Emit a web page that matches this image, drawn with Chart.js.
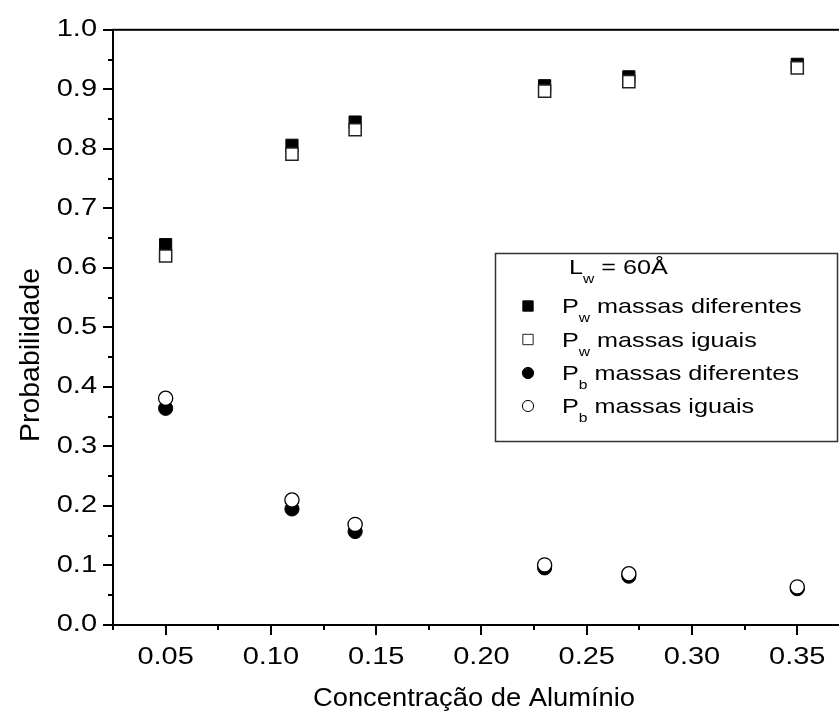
<!DOCTYPE html>
<html>
<head>
<meta charset="utf-8">
<script src="https://cdn.jsdelivr.net/npm/chart.js@4.4.1/dist/chart.umd.min.js"></script>
<style>
  html, body { margin: 0; padding: 0; background: #fff; overflow: hidden; width: 839px; height: 719px; }
  #wrap { width: 860px; height: 719px; }
</style>
</head>
<body>
<div id="wrap"><canvas id="c" width="860" height="719"></canvas></div>
<script>
// Aluminium concentration (x) and probabilities for each series
const concentracao = [0.05, 0.11, 0.14, 0.23, 0.27, 0.35];
const pwDiferentes = [0.639, 0.806, 0.845, 0.906, 0.921, 0.942];
const pwIguais     = [0.620, 0.791, 0.832, 0.897, 0.913, 0.936];
const pbDiferentes = [0.364, 0.195, 0.157, 0.096, 0.082, 0.061];
const pbIguais     = [0.381, 0.210, 0.169, 0.101, 0.086, 0.064];

// Axis ticks
const xTicks = [0.05, 0.10, 0.15, 0.20, 0.25, 0.30, 0.35];
const xMinor = [0.025, 0.075, 0.125, 0.175, 0.225, 0.275, 0.325, 0.375];
const yTicks = [0.0, 0.1, 0.2, 0.3, 0.4, 0.5, 0.6, 0.7, 0.8, 0.9, 1.0];
const yMinor = [0.05, 0.15, 0.25, 0.35, 0.45, 0.55, 0.65, 0.75, 0.85, 0.95];

// Axis titles
const xTitle = 'Concentração de Alumínio';
const yTitle = 'Probabilidade';

// Legend entries: main symbol, subscript, rest of text
const legendTitle = ['L', 'w', ' = 60\u00C5'];
const legendLabels = [
  ['P', 'w', ' massas diferentes'],
  ['P', 'w', ' massas iguais'],
  ['P', 'b', ' massas diferentes'],
  ['P', 'b', ' massas iguais']
];

const FONT = "'Liberation Sans', Arial, Helvetica, sans-serif";

const canvas = document.getElementById('c');
const ctx = canvas.getContext('2d');

// Wide lettering: labels are stretched along their own direction
let forcedStretch = null;
function stretchFor(size) {
  if (forcedStretch !== null) return forcedStretch;
  if (size >= 22) return 1.26;
  return 1.2;
}
const rawFillText = ctx.fillText.bind(ctx);
ctx.fillText = function (text, x, y) {
  const m = /(\d+(?:\.\d+)?)px/.exec(this.font);
  const sx = stretchFor(m ? parseFloat(m[1]) : 12);
  this.save();
  this.translate(x, y);
  this.scale(sx, 1);
  rawFillText(text, 0, 0);
  this.restore();
};

function pts(ys) {
  return concentracao.map((x, i) => ({ x: x, y: ys[i] }));
}

const SQ = 8.6, CR = 7.1;
const datasets = [
  { label: 'Pw massas diferentes', data: pts(pwDiferentes), pointStyle: 'rect', pointRadius: SQ,
    backgroundColor: '#000', borderColor: '#000', borderWidth: 1, order: 2 },
  { label: 'Pw massas iguais', data: pts(pwIguais), pointStyle: 'rect', pointRadius: SQ,
    backgroundColor: '#fff', borderColor: '#222', borderWidth: 1.5, order: 1 },
  { label: 'Pb massas diferentes', data: pts(pbDiferentes), pointStyle: 'circle', pointRadius: CR,
    backgroundColor: '#000', borderColor: '#000', borderWidth: 1, order: 4 },
  { label: 'Pb massas iguais', data: pts(pbIguais), pointStyle: 'circle', pointRadius: CR,
    backgroundColor: '#fff', borderColor: '#000', borderWidth: 1.3, order: 3 }
];

function subText(c, parts, x, baseline, size, subSize, subDrop) {
  const s = stretchFor(size), ss = stretchFor(subSize);
  c.textAlign = 'left';
  c.textBaseline = 'alphabetic';
  c.font = size + 'px ' + FONT;
  c.fillText(parts[0], x, baseline);
  x += c.measureText(parts[0]).width * s;
  c.font = subSize + 'px ' + FONT;
  c.fillText(parts[1], x, baseline + subDrop);
  x += c.measureText(parts[1]).width * ss;
  c.font = size + 'px ' + FONT;
  c.fillText(parts[2], x, baseline);
}

// Title drawn centred at (cx, baseline) with a given overall length
function fittedTitle(c, text, cx, baseline, size, length, angle) {
  c.save();
  c.font = size + 'px ' + FONT;
  c.textAlign = 'center';
  c.textBaseline = 'alphabetic';
  forcedStretch = length / c.measureText(text).width;
  c.translate(cx, baseline);
  c.rotate(angle);
  c.fillText(text, 0, 0);
  forcedStretch = null;
  c.restore();
}

const framePlugin = {
  id: 'frameTicksLegend',
  afterDraw(chart) {
    const c = chart.ctx;
    const a = chart.chartArea;
    const xs = chart.scales.x, ys = chart.scales.y;
    c.save();
    c.strokeStyle = '#000';
    c.lineWidth = 2;
    c.strokeRect(a.left, a.top, a.right - a.left, a.bottom - a.top);
    c.beginPath();
    yTicks.forEach(v => { const p = Math.round(ys.getPixelForValue(v)); c.moveTo(a.left - 10, p); c.lineTo(a.left, p); });
    yMinor.forEach(v => { const p = Math.round(ys.getPixelForValue(v)); c.moveTo(a.left - 5, p); c.lineTo(a.left, p); });
    xTicks.forEach(v => { const p = Math.round(xs.getPixelForValue(v)); c.moveTo(p, a.bottom); c.lineTo(p, a.bottom + 10); });
    xMinor.forEach(v => { const p = Math.round(xs.getPixelForValue(v)); c.moveTo(p, a.bottom); c.lineTo(p, a.bottom + 5); });
    c.stroke();

    // Axis titles
    c.fillStyle = '#000';
    fittedTitle(c, xTitle, 474, 706, 26, 322, 0);
    fittedTitle(c, yTitle, 39, 355, 27, 174, -Math.PI / 2);

    // Legend box
    const L = { x: 495, y: 253, w: 342, h: 188 };
    c.fillStyle = '#fff';
    c.fillRect(L.x, L.y, L.w, L.h);
    c.strokeStyle = '#333';
    c.lineWidth = 1.5;
    c.strokeRect(L.x + 0.5, L.y + 0.5, L.w, L.h);
    c.fillStyle = '#000';
    subText(c, legendTitle, 569, 274, 21, 13, 9);
    const baselines = [313, 346.5, 380, 413];
    const radii = [7.3, 7.3, 5.6, 5.6];
    legendLabels.forEach((parts, i) => {
      const ds = chart.data.datasets[i];
      const cy = baselines[i] - 7;
      c.fillStyle = ds.backgroundColor;
      c.strokeStyle = ds.borderColor;
      c.lineWidth = 1;
      c.beginPath();
      if (ds.pointStyle === 'rect') {
        const h = radii[i] * Math.SQRT1_2;
        c.rect(528 - h, cy - h, 2 * h, 2 * h);
      } else {
        c.arc(528, cy, radii[i], 0, Math.PI * 2);
      }
      c.fill();
      c.stroke();
      c.fillStyle = '#000';
      subText(c, parts, 562, baselines[i], 21, 13, 9);
    });
    c.restore();
  }
};

new Chart(ctx, {
  type: 'scatter',
  data: { datasets: datasets },
  options: {
    responsive: false,
    devicePixelRatio: 1,
    animation: false,
    events: [],
    layout: { padding: { top: 26, right: 9, left: 0, bottom: 0 } },
    plugins: { legend: { display: false }, tooltip: { enabled: false } },
    scales: {
      x: {
        type: 'linear', position: 'bottom', min: 0.025, max: 0.375,
        afterFit: s => { s.height = 94; },
        afterBuildTicks: s => { s.ticks = xTicks.map(v => ({ value: v })); },
        grid: { display: false, drawTicks: false },
        border: { display: false },
        ticks: { padding: 19, color: '#000', font: { family: FONT, size: 23 },
                 callback: v => Number(v).toFixed(2) },
        title: { display: false }
      },
      y: {
        type: 'linear', position: 'left', min: 0, max: 1,
        afterFit: s => { s.width = 113; },
        afterBuildTicks: s => { s.ticks = yTicks.map(v => ({ value: v })); },
        grid: { display: false, drawTicks: false },
        border: { display: false },
        ticks: { padding: 16, color: '#000', font: { family: FONT, size: 23 },
                 callback: v => Number(v).toFixed(1) },
        title: { display: false }
      }
    }
  },
  plugins: [framePlugin]
});
</script>
</body>
</html>
